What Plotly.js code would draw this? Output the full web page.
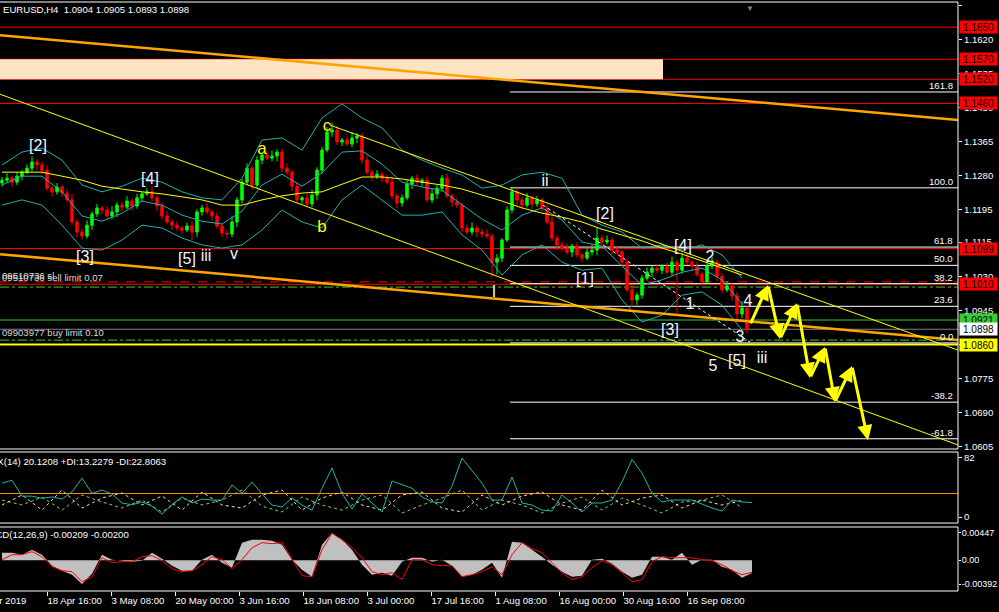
<!DOCTYPE html>
<html><head><meta charset="utf-8">
<script src="https://cdn.plot.ly/plotly-3.0.1.min.js"></script>
<style>html,body{margin:0;padding:0;background:#000;overflow:hidden}</style>
</head><body><div id="chart" style="width:999px;height:612px"></div>
<script>
// ---------------- DATA ----------------
const symbolTitle = 'EURUSD,H4  1.0904 1.0905 1.0893 1.0898';
const adxTitle = 'ADX(14) 20.1208 +DI:13.2279 -DI:22.8063';
const macdTitle = 'MACD(12,26,9) -0.00209 -0.00200';

const openP = [1.1262,1.1269,1.1274,1.1264,1.1279,1.1289,1.1299,1.1314,1.1307,1.1294,
1.1249,1.1240,1.1252,1.1237,1.1220,1.1165,1.1140,1.1130,1.1157,1.1185,
1.1200,1.1195,1.1180,1.1190,1.1207,1.1202,1.1217,1.1205,1.1225,1.1235,
1.1240,1.1225,1.1205,1.1180,1.1165,1.1157,1.1150,1.1145,1.1155,1.1140,
1.1190,1.1200,1.1190,1.1180,1.1155,1.1137,1.1135,1.1165,1.1220,1.1264,
1.1299,1.1257,1.1319,1.1332,1.1324,1.1329,1.1339,1.1299,1.1289,1.1254,
1.1220,1.1225,1.1210,1.1232,1.1294,1.1344,1.1389,1.1394,1.1364,1.1369,
1.1359,1.1374,1.1379,1.1319,1.1289,1.1279,1.1284,1.1274,1.1264,1.1230,
1.1212,1.1225,1.1259,1.1274,1.1264,1.1269,1.1220,1.1235,1.1249,1.1274,
1.1230,1.1215,1.1207,1.1150,1.1140,1.1150,1.1140,1.1135,1.1130,1.1065,
1.1075,1.1120,1.1195,1.1240,1.1220,1.1207,1.1225,1.1210,1.1220,1.1200,
1.1165,1.1125,1.1108,1.1100,1.1090,1.1105,1.1083,1.1075,1.1090,1.1095,
1.1125,1.1115,1.1120,1.1095,1.1090,1.1065,1.0996,1.0971,1.0983,1.1025,
1.1040,1.1050,1.1045,1.1055,1.1040,1.1065,1.1045,1.1075,1.1065,1.1055,
1.1035,1.1016,1.1055,1.1065,1.1030,1.0996,1.1006,1.0981,1.0936,1.0951];
const highP = [1.1277,1.1286,1.1280,1.1289,1.1294,1.1308,1.1328,1.1321,1.1315,1.1306,
1.1255,1.1262,1.1257,1.1246,1.1234,1.1172,1.1148,1.1169,1.1191,1.1210,
1.1205,1.1204,1.1204,1.1214,1.1215,1.1229,1.1223,1.1235,1.1240,1.1249,
1.1254,1.1232,1.1213,1.1192,1.1171,1.1167,1.1155,1.1164,1.1169,1.1197,
1.1208,1.1212,1.1196,1.1190,1.1160,1.1146,1.1179,1.1227,1.1272,1.1311,
1.1305,1.1329,1.1337,1.1341,1.1343,1.1346,1.1347,1.1311,1.1295,1.1264,
1.1230,1.1234,1.1246,1.1301,1.1352,1.1401,1.1412,1.1404,1.1374,1.1378,
1.1388,1.1386,1.1387,1.1331,1.1295,1.1294,1.1289,1.1283,1.1278,1.1237,
1.1233,1.1271,1.1280,1.1284,1.1274,1.1278,1.1249,1.1256,1.1282,1.1286,
1.1236,1.1225,1.1212,1.1159,1.1164,1.1157,1.1148,1.1147,1.1136,1.1085,
1.1125,1.1204,1.1252,1.1247,1.1228,1.1237,1.1231,1.1230,1.1225,1.1209,
1.1179,1.1132,1.1116,1.1112,1.1111,1.1115,1.1088,1.1099,1.1109,1.1152,
1.1133,1.1132,1.1126,1.1105,1.1095,1.1074,1.1010,1.0990,1.1033,1.1052,
1.1056,1.1060,1.1060,1.1064,1.1079,1.1072,1.1088,1.1087,1.1071,1.1065,
1.1040,1.1064,1.1079,1.1072,1.1038,1.1018,1.1012,1.0991,1.0968,1.0956];
const lowP = [1.1253,1.1263,1.1252,1.1257,1.1269,1.1284,1.1291,1.1294,1.1285,1.1243,
1.1228,1.1233,1.1227,1.1215,1.1157,1.1127,1.1121,1.1124,1.1145,1.1178,
1.1185,1.1175,1.1172,1.1177,1.1193,1.1196,1.1193,1.1198,1.1215,1.1230,
1.1217,1.1192,1.1171,1.1159,1.1145,1.1143,1.1135,1.1140,1.1120,1.1127,
1.1181,1.1184,1.1168,1.1148,1.1127,1.1125,1.1127,1.1152,1.1211,1.1258,
1.1245,1.1250,1.1309,1.1319,1.1316,1.1316,1.1290,1.1283,1.1242,1.1213,
1.1210,1.1205,1.1202,1.1219,1.1285,1.1338,1.1377,1.1357,1.1354,1.1354,
1.1351,1.1361,1.1310,1.1283,1.1267,1.1272,1.1264,1.1259,1.1222,1.1199,
1.1203,1.1219,1.1247,1.1257,1.1254,1.1215,1.1212,1.1222,1.1240,1.1224,
1.1203,1.1200,1.1140,1.1135,1.1132,1.1127,1.1126,1.1124,1.1028,1.1035,
1.1065,1.1115,1.1187,1.1207,1.1198,1.1201,1.1198,1.1203,1.1190,1.1160,
1.1117,1.1095,1.1091,1.1084,1.1078,1.1076,1.1065,1.1070,1.1082,1.1082,
1.1106,1.1109,1.1083,1.1083,1.1055,1.0991,1.0953,1.0958,1.0974,1.1019,
1.1028,1.1038,1.1035,1.1035,1.1032,1.0938,1.1036,1.1059,1.1043,1.1028,
1.1006,1.1011,1.1047,1.1017,1.0987,1.0990,1.0969,1.0915,1.0926,1.0888];
const closeP = [1.1269,1.1274,1.1264,1.1279,1.1289,1.1299,1.1314,1.1307,1.1294,1.1249,
1.1240,1.1252,1.1237,1.1220,1.1165,1.1140,1.1130,1.1157,1.1185,1.1200,
1.1195,1.1180,1.1190,1.1207,1.1202,1.1217,1.1205,1.1225,1.1235,1.1240,
1.1225,1.1205,1.1180,1.1165,1.1157,1.1150,1.1145,1.1155,1.1140,1.1190,
1.1200,1.1190,1.1180,1.1155,1.1137,1.1135,1.1165,1.1220,1.1264,1.1299,
1.1257,1.1319,1.1332,1.1324,1.1329,1.1339,1.1299,1.1289,1.1254,1.1220,
1.1225,1.1210,1.1232,1.1294,1.1344,1.1389,1.1394,1.1364,1.1369,1.1359,
1.1374,1.1379,1.1319,1.1289,1.1279,1.1284,1.1274,1.1264,1.1230,1.1212,
1.1225,1.1259,1.1274,1.1264,1.1269,1.1220,1.1235,1.1249,1.1274,1.1230,
1.1215,1.1207,1.1150,1.1140,1.1150,1.1140,1.1135,1.1130,1.1065,1.1075,
1.1120,1.1195,1.1240,1.1220,1.1207,1.1225,1.1210,1.1220,1.1200,1.1165,
1.1125,1.1108,1.1100,1.1090,1.1105,1.1083,1.1075,1.1090,1.1095,1.1125,
1.1115,1.1120,1.1095,1.1090,1.1065,1.0996,1.0971,1.0983,1.1025,1.1040,
1.1050,1.1045,1.1055,1.1040,1.1065,1.1045,1.1075,1.1065,1.1055,1.1035,
1.1016,1.1055,1.1065,1.1030,1.0996,1.1006,1.0981,1.0936,1.0951,1.0898];

// Bollinger bands and moving average (sampled every 4 bars)
const bbUpper = [1.1307,1.1339,1.1349,1.1319,1.1257,1.1240,1.1254,1.1274,1.1264,1.1240,
1.1225,1.1220,1.1274,1.1369,1.1374,1.1344,1.1424,1.1459,1.1424,1.1399,
1.1344,1.1319,1.1299,1.1282,1.1249,1.1257,1.1282,1.1289,1.1274,1.1182,
1.1157,1.1140,1.1100,1.1108,1.1095,1.1108,1.1083,1.1025];
const bbMiddle = [1.1257,1.1279,1.1279,1.1240,1.1180,1.1167,1.1187,1.1217,1.1207,1.1182,
1.1167,1.1160,1.1192,1.1257,1.1284,1.1254,1.1287,1.1339,1.1342,1.1309,
1.1264,1.1252,1.1244,1.1207,1.1172,1.1145,1.1182,1.1200,1.1170,1.1115,
1.1105,1.1055,1.1008,1.1021,1.1040,1.1050,1.1021,1.0961];
const bbLower = [1.1207,1.1220,1.1207,1.1157,1.1100,1.1095,1.1120,1.1157,1.1150,1.1125,
1.1108,1.1100,1.1108,1.1145,1.1195,1.1165,1.1150,1.1220,1.1257,1.1220,
1.1182,1.1182,1.1190,1.1133,1.1095,1.1033,1.1083,1.1108,1.1065,1.1045,
1.1050,1.0971,1.0916,1.0933,1.0983,1.0991,1.0958,1.0896];
const maLine = [1.1289,1.1289,1.1289,1.1279,1.1269,1.1254,1.1247,1.1240,1.1235,1.1227,
1.1220,1.1207,1.1207,1.1220,1.1230,1.1237,1.1240,1.1259,1.1277,1.1277,
1.1272,1.1264,1.1257,1.1247,1.1232,1.1217,1.1200,1.1187,1.1177,1.1165,
1.1147,1.1133,1.1118,1.1100,1.1085,1.1068,1.1050,1.1033];

// Horizontal levels
const redLevels = [1.1650, 1.1570, 1.1520, 1.1460, 1.1099, 1.1010];
const greenLevel = 1.0921;
const bidLevel = 1.0898;
const yellowLevel = 1.0860;
const sellLimitLevel = 1.1016;
const greenDashLevels = [1.1003, 1.0871];
const zoneTop = 1.1570, zoneBottom = 1.1520, zoneEndBar = 132.2;

// Fibonacci
const fibHigh = 1.1250, fibLow = 1.0864, fibStartBar = 101.6;
const fibRatios = [1.618, 1.0, 0.618, 0.5, 0.382, 0.236, 0.0, -0.382, -0.618];
const fibLabels = ['161.8','100.0','61.8','50.0','38.2','23.6','0.0','-38.2','-61.8'];

// Trend lines (bar, price)
const orange1Bars = [-0.4, 191.2], orange1Prices = [1.1630, 1.1419];
const orange2Bars = [-0.4, 191.2], orange2Prices = [1.1085, 1.0871];
const yellowLongBars = [-0.4, 191.2], yellowLongPrices = [1.1483, 1.0610];
const yellowCBars = [65.6, 191.2], yellowCPrices = [1.1406, 1.0846];
const dottedBars = [108.2, 149.6], dottedPrices = [1.1207, 1.0866];

// Projection zigzag
const projBars = [149.6, 153.2, 155.6, 159, 161.6, 164.6, 166.6, 170, 173.2];
const projPrices = [1.0909, 1.1008, 1.0874, 1.0963, 1.0777, 1.0854, 1.0717, 1.0806, 1.0622];

// Wave labels
const whiteWaveText = ['[2]','[4]','[3]','[5]','iii','v','I','ii','[1]','[2]','[4]','2','1','4','[3]','3','5','[5]','iii'];
const whiteWaveBar = [7.2,29.6,16.6,37,40.8,46.4,98.4,108.6,116.6,120.6,136.2,141.6,137.6,149.2,133.6,147.6,142.2,147,152];
const whiteWavePrice = [1.1352,1.1269,1.1075,1.1070,1.1078,1.1083,1.0988,1.1264,1.1021,1.1182,1.1103,1.1075,1.0958,1.0966,1.0893,1.0876,1.0804,1.0816,1.0824];
const yellowWaveText = ['a','b','c'];
const yellowWaveBar = [52, 64, 65];
const yellowWavePrice = [1.1344, 1.1150, 1.1401];

// ADX (sampled every 2 bars)
const adx = [47,51,29,29,26,28,25,35,54,33,37.5,32,19.5,17,21,15,4,17,28,19.5,
25,23.6,23.6,44.5,33,48.6,32,16.7,14,26.4,16.7,9.7,40,68,33,11,32,19.5,7,50,
44.5,40,28,21,19.5,43,82,65,47,23.6,23.6,55.6,19.5,16.7,9.7,8.3,30.6,19.5,7,19.5,
19.5,23.6,48.6,80,61,33,21,23.6,23.6,23.6,18,12.5,8.3,23.6,21,20.1];
// +DI / -DI (sampled every 4 bars)
const plusDI = [23.6,16.7,27.8,9.7,30.6,20.9,12.5,23.6,7.0,26.4,16.7,23.6,37.5,15.3,7.0,27.8,16.7,9.7,23.6,30.6,
5.6,16.7,26.4,37.5,9.7,23.6,16.7,5.6,19.5,27.8,9.7,26.4,16.7,5.6,20.9,23.6,30.6,13.2];
const minusDI = [16.7,30.6,9.7,37.5,12.5,26.4,33.4,16.7,29.2,9.7,34.8,16.7,12.5,30.6,37.5,9.7,26.4,34.8,16.7,9.7,
30.6,34.8,12.5,7.0,30.6,16.7,29.2,34.8,16.7,9.7,37.5,16.7,26.4,30.6,12.5,23.6,16.7,22.8];
const adxLevel = 32.7;

// MACD (sampled every 2 bars)
const macdHist = [0.00123,0.00123,0.00090,0.00173,0.00090,-0.00090,-0.00173,-0.00239,-0.00392,-0.00222,
0.00090,0.00008,-0.00008,-0.00025,-0.00008,0.00123,0.00025,-0.00090,-0.00173,-0.00173,
0.00008,0.00090,-0.00041,-0.00123,0.00288,0.00337,0.00337,0.00321,0.00255,0.00008,
-0.00156,-0.00271,0.00255,0.00447,0.00337,0.00173,-0.00074,-0.00239,-0.00206,-0.00255,
-0.00025,0.00041,0.00041,-0.00025,0.00008,-0.00090,-0.00271,-0.00239,-0.00156,-0.00041,
-0.00288,0.00304,0.00288,0.00173,0.00058,-0.00074,-0.00189,-0.00271,-0.00255,0.00008,
0.00025,-0.00058,-0.00189,-0.00288,-0.00239,0.00058,0.00058,0.00008,0.00123,-0.00074,
0.00008,0.00008,-0.00107,-0.00156,-0.00288,-0.00209];
const macdSignal = [0.00008,0.00090,0.00090,0.00140,0.00058,-0.00107,-0.00173,-0.00189,-0.00354,-0.00271,
0.00041,-0.00041,-0.00025,-0.00025,0.00058,0.00074,-0.00008,-0.00140,-0.00189,-0.00173,
-0.00074,0.00058,0.00008,-0.00140,0.00008,0.00206,0.00288,0.00271,0.00288,0.00008,
-0.00255,-0.00271,0.00173,0.00440,0.00337,0.00206,0.00041,-0.00189,-0.00239,-0.00206,
-0.00321,0.00008,0.00008,-0.00074,-0.00090,-0.00090,-0.00271,-0.00239,-0.00189,-0.00107,
-0.00239,0.00090,0.00288,0.00189,0.00123,-0.00041,-0.00206,-0.00321,-0.00271,-0.00123,
-0.00008,-0.00074,-0.00206,-0.00354,-0.00321,-0.00025,0.00058,0.00041,0.00041,0.00041,
0.00008,-0.00008,-0.00074,-0.00173,-0.00239,-0.00200];

// Axis ticks
const priceTicks = [1.1705,1.1620,1.1535,1.1450,1.1365,1.1280,1.1195,1.1115,1.1030,1.0945,1.0860,1.0775,1.0690,1.0605];
const tickBars = [9, 21.8, 34.6, 47.4, 60.2, 73, 85.8, 98.6, 111.4, 124.2, 137];
const tickLabels = ['18 Apr 16:00','3 May 08:00','20 May 00:00','3 Jun 16:00','18 Jun 08:00','3 Jul 00:00','17 Jul 16:00','1 Aug 08:00','16 Aug 00:00','30 Aug 16:00','16 Sep 08:00'];
const firstDateLabel = '4 Apr 2019';

// ---------------- BUILD ----------------
const FONT = 'Liberation Sans, Arial, sans-serif';
const FS = 9.6;
const xRange = [-0.4, 191.2];
const candleX = closeP.map((_, i) => i);
const bandX = bbUpper.map((_, i) => i * 4);
const adxX = adx.map((_, i) => i * 2);
const diX = plusDI.map((_, i) => i * 4);
const macdX = macdHist.map((_, i) => i * 2);
const CYAN = '#23b0b0';

const line = (x, y, color, width, dash, yaxis) => ({
  type: 'scatter', mode: 'lines', x, y, xaxis: 'x', yaxis: yaxis || 'y',
  line: {color, width, dash: dash || 'solid'}, hoverinfo: 'skip'
});

const traces = [
  line(bandX, bbUpper, CYAN, 1),
  line(bandX, bbMiddle, CYAN, 1),
  line(bandX, bbLower, CYAN, 1),
  line(bandX, maLine, '#ffff00', 1),
  line(orange1Bars, orange1Prices, '#ffa500', 2.5),
  line(orange2Bars, orange2Prices, '#ffa500', 2.5),
  line(yellowLongBars, yellowLongPrices, '#ffff00', 1),
  line(yellowCBars, yellowCPrices, '#ffff00', 1),
  line(dottedBars, dottedPrices, '#ffffff', 1, 'dot'),
  {
    type: 'candlestick', x: candleX, open: openP, high: highP, low: lowP, close: closeP,
    xaxis: 'x', yaxis: 'y', whiskerwidth: 0,
    increasing: {line: {color: '#00ff00', width: 1}, fillcolor: '#00ff00'},
    decreasing: {line: {color: '#ff0000', width: 1}, fillcolor: '#ff0000'},
    hoverinfo: 'skip'
  },
  {type: 'scatter', mode: 'text', x: whiteWaveBar, y: whiteWavePrice, text: whiteWaveText,
   textfont: {family: FONT, size: 16, color: '#f0f6ff'}, cliponaxis: false, hoverinfo: 'skip'},
  {type: 'scatter', mode: 'text', x: yellowWaveBar, y: yellowWavePrice, text: yellowWaveText,
   textfont: {family: FONT, size: 17, color: '#ffff00'}, cliponaxis: false, hoverinfo: 'skip'},
  // ADX panel
  line(diX, plusDI, '#9acd32', 1, 'dot', 'y2'),
  line(diX, minusDI, '#f5deb3', 1, 'dot', 'y2'),
  line(adxX, adx, CYAN, 1, 'solid', 'y2'),
  // MACD panel
  {type: 'scatter', mode: 'lines', x: macdX, y: macdHist, xaxis: 'x', yaxis: 'y3',
   fill: 'tozeroy', fillcolor: '#c0c0c0', line: {color: '#c0c0c0', width: 0}, hoverinfo: 'skip'},
  line(macdX, macdSignal, '#ff0000', 1, 'solid', 'y3')
];

const shapes = [];
shapes.push({type: 'rect', xref: 'x', yref: 'y', x0: xRange[0], x1: zoneEndBar, y0: zoneBottom, y1: zoneTop,
  fillcolor: '#ffe4c4', line: {width: 0}, layer: 'below'});
const hLine = (y, color, width, dash) => ({type: 'line', xref: 'paper', yref: 'y', x0: 0, x1: 1, y0: y, y1: y,
  line: {color, width, dash: dash || 'solid'}, layer: 'below'});
redLevels.forEach(v => shapes.push(hLine(v, '#ff0000', 1)));
shapes.push(hLine(sellLimitLevel, '#ff0000', 1, 'dash'));
greenDashLevels.forEach(v => shapes.push(hLine(v, '#32cd32', 1, 'dashdot')));
shapes.push(hLine(greenLevel, '#32cd32', 1));
shapes.push(hLine(bidLevel, '#808080', 1));
shapes.push(hLine(yellowLevel, '#ffff00', 2));
const fibPrices = fibRatios.map(r => fibLow + r * (fibHigh - fibLow));
fibPrices.forEach(p => shapes.push({type: 'line', xref: 'x', yref: 'y', x0: fibStartBar, x1: xRange[1], y0: p, y1: p,
  line: {color: '#ffffff', width: 1}, layer: 'below'}));
shapes.push({type: 'line', xref: 'paper', yref: 'y2', x0: 0, x1: 1, y0: adxLevel, y1: adxLevel,
  line: {color: '#ff8c00', width: 1}, layer: 'below'});
['y', 'y2', 'y3'].forEach(ax => {
  const d = ax + ' domain';
  shapes.push({type: 'line', xref: 'paper', yref: d, x0: 0, x1: 1, y0: 1, y1: 1, line: {color: '#fff', width: 1}});
  shapes.push({type: 'line', xref: 'paper', yref: d, x0: 0, x1: 1, y0: 0, y1: 0, line: {color: '#fff', width: 1}});
  shapes.push({type: 'line', xref: 'paper', yref: d, x0: 1, x1: 1, y0: 0, y1: 1, line: {color: '#fff', width: 1}});
});

const annotations = [];
const txt = (o) => Object.assign({showarrow: false, font: {family: FONT, size: FS, color: '#ffffff'}}, o);
annotations.push(txt({xref: 'paper', yref: 'paper', x: 0.001, y: 0.988, xanchor: 'left', yanchor: 'middle', text: symbolTitle}));
annotations.push(txt({xref: 'paper', yref: 'paper', x: 0.1754, y: 0.2207, xanchor: 'right', yanchor: 'middle', text: adxTitle}));
annotations.push(txt({xref: 'paper', yref: 'paper', x: 0.1367, y: 0.0951, xanchor: 'right', yanchor: 'middle', text: macdTitle}));
annotations.push(txt({xref: 'paper', yref: 'paper', x: 0.0292, y: -0.0153, xanchor: 'right', yanchor: 'middle', text: firstDateLabel}));
annotations.push(txt({xref: 'paper', yref: 'paper', x: 0.783, y: 1.0, xanchor: 'center', yanchor: 'top', text: '▼', font: {family: FONT, size: 8, color: '#808080'}}));
const orderFont = {family: FONT, size: FS, color: '#d8d8d8'};
annotations.push(txt({xref: 'paper', yref: 'y', x: 0, y: 1.1033, xanchor: 'left', yanchor: 'middle', text: '09510736 sl', font: orderFont}));
annotations.push(txt({xref: 'paper', yref: 'y', x: 0, y: sellLimitLevel, xanchor: 'left', yanchor: 'bottom', yshift: -3, text: '09510736 sell limit 0.07', font: orderFont}));
annotations.push(txt({xref: 'paper', yref: 'y', x: 0, y: greenDashLevels[1], xanchor: 'left', yanchor: 'bottom', text: '09903977 buy limit 0.10', font: orderFont}));
fibPrices.forEach((p, i) => annotations.push(txt({xref: 'paper', yref: 'y', x: 0.997, y: p, xanchor: 'right', yanchor: 'bottom', yshift: -1, text: fibLabels[i]})));
const box = (p, bg) => txt({xref: 'paper', yref: 'y', x: 1, xshift: 1, y: p, xanchor: 'left', yanchor: 'middle',
  text: p.toFixed(4), bgcolor: bg, width: 37, height: 12, borderpad: 0, align: 'center',
  font: {family: FONT, size: 10, color: '#000000'}});
redLevels.forEach(v => annotations.push(box(v, '#ff0000')));
annotations.push(box(greenLevel, '#33cc33'));
annotations.push(box(bidLevel, '#ffffff'));
annotations.push(box(yellowLevel, '#ffff00'));
for (let k = 1; k < projBars.length; k++) {
  annotations.push({xref: 'x', yref: 'y', axref: 'x', ayref: 'y', x: projBars[k], y: projPrices[k],
    ax: projBars[k - 1], ay: projPrices[k - 1], text: '', showarrow: true, arrowhead: 2, arrowsize: 1,
    arrowwidth: 3, arrowcolor: '#ffff00', standoff: 0, startstandoff: 0});
}

const axisCommon = {showgrid: false, zeroline: false, showline: false, fixedrange: true,
  tickfont: {family: FONT, size: FS, color: '#ffffff'}, tickcolor: '#ffffff', ticks: 'outside'};

const layout = {
  width: 999, height: 612,
  margin: {l: 0, r: 41, t: 2, b: 21, pad: 0},
  paper_bgcolor: '#000000', plot_bgcolor: '#000000',
  showlegend: false, hovermode: false,
  font: {family: FONT, size: FS, color: '#ffffff'},
  xaxis: Object.assign({}, axisCommon, {domain: [0, 1], range: xRange, anchor: 'y3', type: 'linear',
    tickmode: 'array', tickvals: tickBars, ticktext: tickLabels, ticklen: 4, tickangle: 0,
    ticklabelposition: 'outside right', rangeslider: {visible: false}}),
  yaxis: Object.assign({}, axisCommon, {domain: [0.2411, 1], range: [1.0600, 1.17125], side: 'right', anchor: 'x',
    tickmode: 'array', tickvals: priceTicks, ticktext: priceTicks.map(v => v.toFixed(4)), ticklen: 3}),
  yaxis2: Object.assign({}, axisCommon, {domain: [0.1154, 0.2360], range: [-8.3, 90.3], side: 'right', anchor: 'x',
    tickmode: 'array', tickvals: [0, 82], ticktext: ['0', '82'], ticklen: 3}),
  yaxis3: Object.assign({}, axisCommon, {domain: [0, 0.1087], range: [-0.00507, 0.00546], side: 'right', anchor: 'x',
    tickmode: 'array', tickvals: [-0.00392, 0, 0.00447], ticktext: ['-0.00392', '0.00', '0.00447'], ticklen: 2,
    ticklabelstandoff: -1, tickfont: {family: FONT, size: 9, color: '#ffffff'}}),
  shapes, annotations
};

Plotly.newPlot('chart', traces, layout, {displayModeBar: false, staticPlot: true});
</script></body></html>
